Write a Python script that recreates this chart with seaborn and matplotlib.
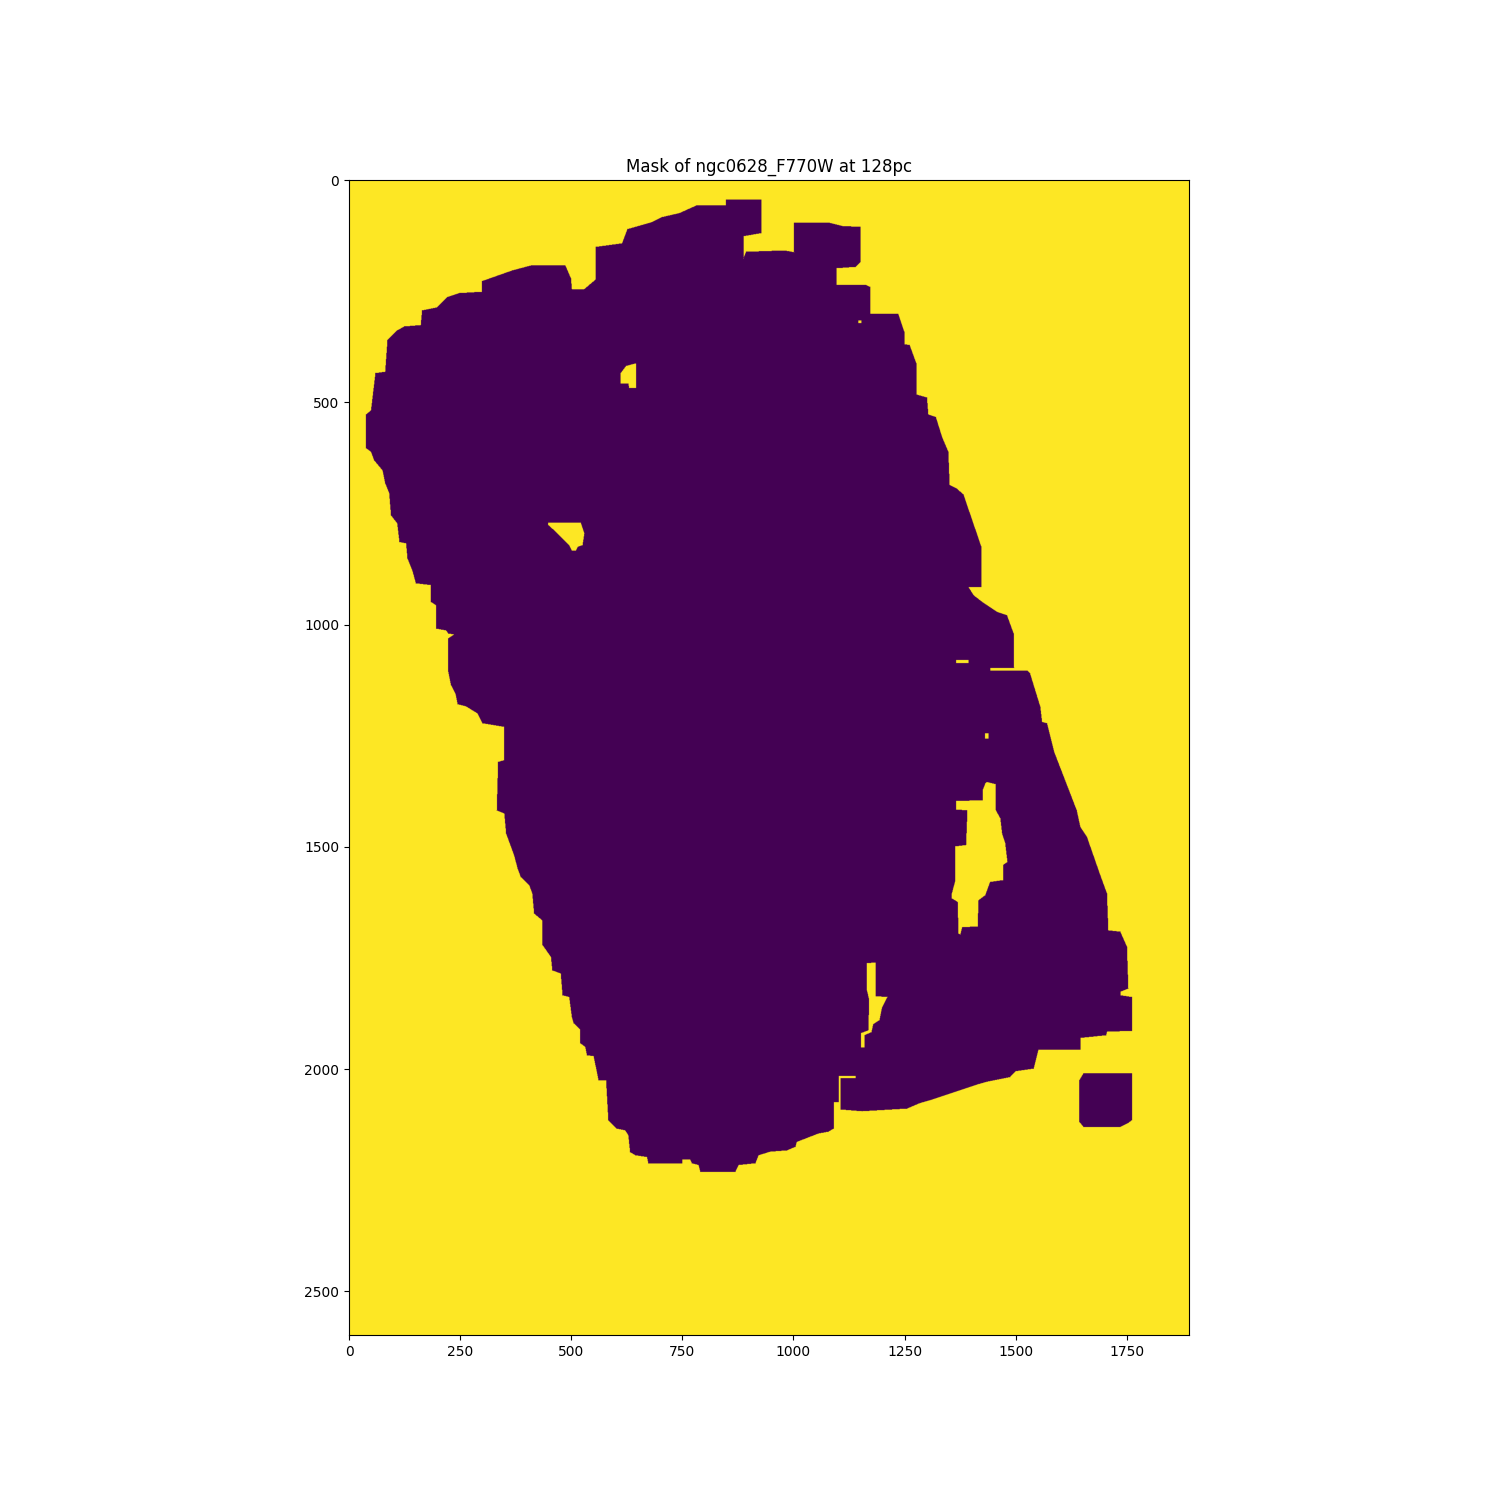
import numpy as np
import matplotlib
matplotlib.use("Agg")
import matplotlib.pyplot as plt
import seaborn as sns
from matplotlib.path import Path

# image size (pixels of the mask array)
image_height = 2599
image_width = 1890

title_text = "Mask of ngc0628_F770W at 128pc"
x_ticks = [0, 250, 500, 750, 1000, 1250, 1500, 1750]
y_ticks = [0, 500, 1000, 1500, 2000, 2500]

# outline of the masked (value 0) galaxy region, in array pixel coordinates (x, y)
outer_region = [
    (38, 603), (38, 527), (49, 518), (59, 434), (81, 431), (86, 360), (108, 338), (124, 329),
    (161, 326), (164, 293), (198, 286), (221, 263), (248, 254), (299, 251), (299, 227),
    (367, 203), (412, 191), (486, 191), (499, 221), (501, 245), (529, 245), (555, 223),
    (555, 150), (614, 142), (626, 110), (679, 95), (704, 83), (743, 74), (783, 56),
    (848, 56), (848, 43), (927, 43), (927, 119), (887, 126), (887, 176), (893, 161),
    (979, 158), (1001, 162), (1001, 95), (1078, 95), (1109, 103), (1150, 105), (1150, 184),
    (1139, 195), (1096, 198), (1096, 235), (1161, 235), (1172, 240), (1172, 300),
    (1235, 300), (1249, 341), (1249, 369), (1261, 371), (1276, 412), (1276, 482),
    (1300, 489), (1303, 527), (1320, 533), (1334, 578), (1348, 611), (1351, 686),
    (1367, 694), (1382, 707), (1422, 824), (1422, 915), (1393, 915), (1405, 934),
    (1427, 951), (1457, 971), (1480, 979), (1495, 1020), (1496, 1097), (1442, 1097),
    (1442, 1103), (1526, 1103), (1532, 1110), (1555, 1185), (1559, 1219), (1570, 1222),
    (1586, 1286), (1637, 1418), (1645, 1455), (1660, 1478), (1690, 1564), (1705, 1605),
    (1708, 1688), (1735, 1691), (1750, 1725), (1753, 1819), (1735, 1826), (1735, 1834),
    (1761, 1838), (1761, 1914), (1705, 1916), (1703, 1924), (1645, 1930), (1645, 1956),
    (1551, 1956), (1540, 1999), (1499, 2005), (1487, 2018), (1433, 2029), (1409, 2036),
    (1307, 2070), (1283, 2077), (1255, 2089), (1154, 2095), (1106, 2091), (1106, 2020),
    (1140, 2020), (1140, 2015), (1101, 2015), (1101, 2074), (1090, 2074), (1090, 2134),
    (1078, 2141), (1056, 2145), (1007, 2164), (1004, 2175), (985, 2183), (947, 2186),
    (921, 2194), (914, 2212), (876, 2216), (869, 2231), (790, 2231), (786, 2216),
    (771, 2212), (767, 2203), (749, 2203), (749, 2212), (673, 2212), (670, 2198),
    (644, 2194), (632, 2187), (628, 2149), (621, 2138), (602, 2134), (583, 2115),
    (578, 2025), (561, 2025), (554, 1991), (550, 1971), (535, 1969), (531, 1950),
    (520, 1942), (520, 1911), (505, 1897), (501, 1883), (495, 1838), (480, 1834),
    (476, 1785), (457, 1778), (454, 1748), (435, 1721), (434, 1665), (416, 1650),
    (412, 1605), (405, 1586), (386, 1568), (379, 1549), (371, 1519), (353, 1470),
    (349, 1425), (332, 1418), (335, 1309), (349, 1305), (349, 1230), (300, 1222),
    (289, 1200), (263, 1184), (244, 1179), (239, 1155), (229, 1136), (223, 1106),
    (223, 1031), (236, 1022), (223, 1020), (218, 1013), (196, 1009), (195, 956),
    (184, 949), (184, 911), (150, 907), (142, 878), (131, 851), (128, 817), (113, 814),
    (108, 772), (94, 754), (90, 704), (81, 682), (75, 653), (56, 630), (49, 611),
]

# separate small masked block at lower right
corner_block = [
    (1652, 2010), (1761, 2009), (1761, 2115), (1753, 2121), (1735, 2130),
    (1652, 2130), (1643, 2119), (1643, 2025),
]

# unmasked holes (value 1) inside the region
hole_upper = [(645, 412), (645, 467), (630, 467), (628, 457), (611, 457), (611, 434), (623, 418)]
hole_left = [
    (448, 770), (521, 770), (529, 795), (525, 821), (514, 825), (510, 833), (501, 833),
    (495, 821), (480, 806), (469, 795), (457, 784), (448, 776),
]
hole_right = [
    (1435, 1354), (1454, 1359), (1455, 1418), (1465, 1436), (1469, 1470), (1476, 1492),
    (1481, 1534), (1471, 1541), (1471, 1575), (1442, 1579), (1431, 1609), (1416, 1620),
    (1414, 1679), (1379, 1681), (1375, 1697), (1371, 1695), (1369, 1624), (1356, 1616),
    (1356, 1605), (1364, 1575), (1364, 1499), (1388, 1496), (1391, 1418), (1366, 1416),
    (1366, 1397), (1426, 1395), (1426, 1371), (1431, 1358),
]
hole_lower = [
    (1165, 1762), (1184, 1760), (1184, 1836), (1211, 1838), (1199, 1861), (1193, 1890),
    (1179, 1899), (1175, 1917), (1159, 1924), (1159, 1951), (1152, 1951), (1152, 1919),
    (1168, 1913), (1170, 1845), (1165, 1823),
]
hole_dot = [(1146, 315), (1152, 315), (1152, 321), (1146, 321)]
hole_slit = [(1366, 1079), (1393, 1079), (1393, 1086), (1366, 1086)]
hole_speck = [(1431, 1244), (1438, 1244), (1438, 1256), (1431, 1256)]


def fill_polygon(grid, poly, value):
    verts = np.asarray(poly, dtype=float)
    x0 = max(int(np.floor(verts[:, 0].min())) - 1, 0)
    x1 = min(int(np.ceil(verts[:, 0].max())) + 2, grid.shape[1])
    y0 = max(int(np.floor(verts[:, 1].min())) - 1, 0)
    y1 = min(int(np.ceil(verts[:, 1].max())) + 2, grid.shape[0])
    yy, xx = np.mgrid[y0:y1, x0:x1]
    pts = np.column_stack([xx.ravel(), yy.ravel()])
    inside = Path(verts).contains_points(pts).reshape(yy.shape)
    sub = grid[y0:y1, x0:x1]
    sub[inside] = value


mask = np.ones((image_height, image_width), dtype=float)
fill_polygon(mask, outer_region, 0)
fill_polygon(mask, corner_block, 0)
for hole in [hole_upper, hole_left, hole_right, hole_lower, hole_dot, hole_slit, hole_speck]:
    fill_polygon(mask, hole, 1)

cmap = sns.color_palette("viridis", as_cmap=True)

fig, ax = plt.subplots(figsize=(15, 15), dpi=100)
ax.imshow(mask, cmap=cmap, vmin=0, vmax=1)
ax.set_xticks(x_ticks)
ax.set_yticks(y_ticks)
ax.set_title(title_text)
fig.savefig("out.png", dpi=100)
